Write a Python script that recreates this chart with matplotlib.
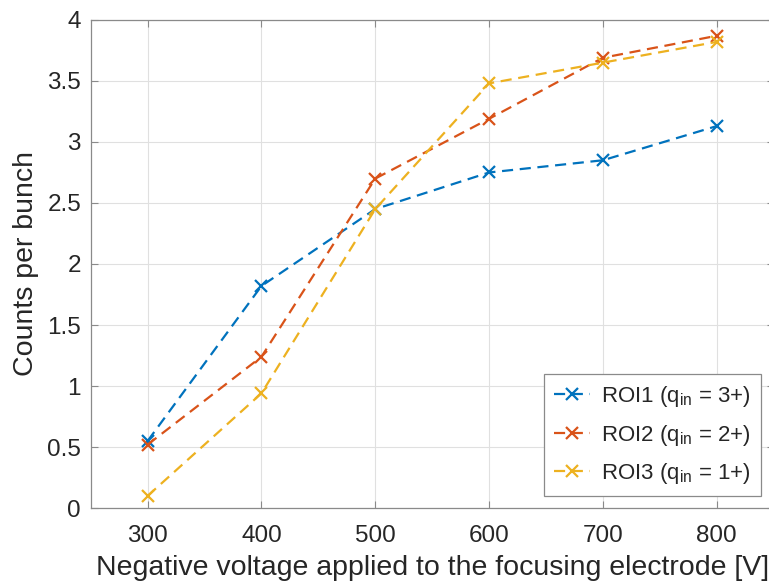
import matplotlib

matplotlib.use("Agg")
import matplotlib.pyplot as plt  # noqa: E402

voltage = [300, 400, 500, 600, 700, 800]
roi1 = [0.55, 1.82, 2.45, 2.75, 2.85, 3.13]
roi2 = [0.52, 1.24, 2.70, 3.19, 3.69, 3.87]
roi3 = [0.10, 0.94, 2.45, 3.48, 3.65, 3.82]
labels = [r"ROI1 (q$_\mathregular{in}$ = 3+)",
          r"ROI2 (q$_\mathregular{in}$ = 2+)",
          r"ROI3 (q$_\mathregular{in}$ = 1+)"]
colors = ["#0072BD", "#D95319", "#EDB120"]
yticks = [0, 0.5, 1, 1.5, 2, 2.5, 3, 3.5, 4]
ytick_labels = ["0", "0.5", "1", "1.5", "2", "2.5", "3", "3.5", "4"]

plt.rcParams["font.family"] = ["Liberation Sans", "DejaVu Sans"]
plt.rcParams["text.color"] = "#262626"

fig = plt.figure(figsize=(7.69, 5.86), dpi=100)
# axes runs a little past the right edge of the image, as in the reference
ax = fig.add_axes([0.118, 0.133, 0.888, 0.833])

for ys, c, lab in zip([roi1, roi2, roi3], colors, labels):
    ax.plot(voltage, ys, linestyle="--", color=c, linewidth=1.6,
            marker="x", markersize=8, markeredgewidth=1.6, label=lab,
            dashes=(5, 3))

ax.set_xlim(250, 850)
ax.set_ylim(0, 4)
ax.set_xticks(voltage)
ax.set_yticks(yticks)
ax.set_yticklabels(ytick_labels)
ax.grid(True, color="#e0e0e0", linewidth=0.8)
ax.set_axisbelow(True)
for s in ax.spines.values():
    s.set_color("#8a8a8a")
    s.set_linewidth(0.9)
ax.tick_params(direction="in", length=5, colors="#8a8a8a", labelcolor="#262626",
               labelsize=17.5, top=True, right=True)
ax.tick_params(axis="x", pad=12)
ax.tick_params(axis="y", pad=7)
ax.set_xlabel("Negative voltage applied to the focusing electrode [V]",
              fontsize=20.5, color="#262626", labelpad=6)
ax.set_ylabel("Counts per bunch", fontsize=20.5, color="#262626", labelpad=6)

leg = ax.legend(loc="lower right", bbox_to_anchor=(0.981, 0.025), fontsize=16,
                frameon=True, fancybox=False, framealpha=1,
                edgecolor="#8a8a8a", handlelength=1.6, borderpad=0.45,
                labelspacing=0.6, handletextpad=0.5, borderaxespad=0)
leg.get_frame().set_linewidth(0.9)

fig.savefig("out.png", dpi=100)
